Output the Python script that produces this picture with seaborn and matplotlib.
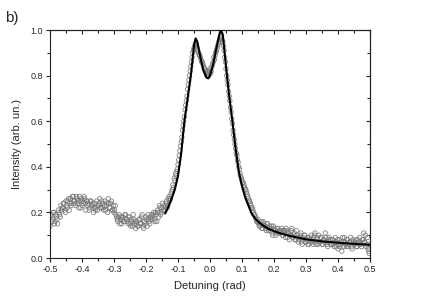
import numpy as np
import pandas as pd
import matplotlib
matplotlib.use("Agg")
import matplotlib.pyplot as plt
import seaborn as sns
from matplotlib.ticker import MultipleLocator

# datos medidos, barrido A (paso uniforme de -0.5 a 0.5 rad)
intensidad_a = [
    0.14, 0.19, 0.17, 0.20, 0.16, 0.18, 0.15, 0.20, 0.18, 0.21,
    0.22, 0.24, 0.20, 0.23, 0.25, 0.21, 0.26, 0.24, 0.27, 0.25,
    0.23, 0.26, 0.25, 0.27, 0.22, 0.25, 0.24, 0.26, 0.21, 0.25,
    0.24, 0.22, 0.25, 0.23, 0.20, 0.24, 0.22, 0.21, 0.23, 0.26,
    0.22, 0.24, 0.21, 0.25, 0.23, 0.20, 0.24, 0.22, 0.25, 0.21,
    0.20, 0.23, 0.18, 0.16, 0.19, 0.17, 0.15, 0.18, 0.16, 0.19,
    0.17, 0.15, 0.18, 0.14, 0.16, 0.19, 0.15, 0.13, 0.16, 0.14,
    0.17, 0.15, 0.19, 0.13, 0.16, 0.18, 0.14, 0.17, 0.15, 0.19,
    0.18, 0.20, 0.16, 0.19, 0.21, 0.18, 0.22, 0.20, 0.24, 0.21,
    0.22, 0.25, 0.23, 0.27, 0.26, 0.29, 0.32, 0.35, 0.37, 0.38,
    0.41, 0.45, 0.49, 0.53, 0.58, 0.62, 0.67, 0.71, 0.76, 0.80,
    0.84, 0.88, 0.91, 0.93, 0.94, 0.92, 0.90, 0.89, 0.87, 0.86,
    0.84, 0.83, 0.81, 0.82, 0.80, 0.83, 0.82, 0.85, 0.88, 0.89,
    0.91, 0.93, 0.95, 0.97, 0.96, 0.95, 0.91, 0.86, 0.80, 0.76,
    0.71, 0.66, 0.61, 0.56, 0.52, 0.48, 0.45, 0.42, 0.39, 0.36,
    0.34, 0.33, 0.31, 0.30, 0.28, 0.26, 0.25, 0.23, 0.22, 0.20,
    0.19, 0.17, 0.16, 0.15, 0.14, 0.16, 0.13, 0.15, 0.14, 0.12,
    0.15, 0.13, 0.12, 0.14, 0.10, 0.13, 0.12, 0.11, 0.13, 0.12,
    0.11, 0.13, 0.10, 0.12, 0.09, 0.12, 0.11, 0.08, 0.10, 0.13,
    0.09, 0.11, 0.08, 0.10, 0.07, 0.09, 0.11, 0.06, 0.08, 0.10,
    0.07, 0.09, 0.06, 0.08, 0.10, 0.07, 0.09, 0.11, 0.06, 0.08,
    0.10, 0.07, 0.09, 0.06, 0.08, 0.11, 0.07, 0.05, 0.09, 0.08,
    0.06, 0.08, 0.05, 0.09, 0.07, 0.04, 0.08, 0.06, 0.03, 0.07,
    0.09, 0.06, 0.08, 0.05, 0.07, 0.09, 0.04, 0.07, 0.06, 0.08,
    0.05, 0.07, 0.09, 0.06, 0.08, 0.11, 0.07, 0.05, 0.09, 0.03, 0.06,
]
desintonia_a = np.linspace(-0.5, 0.5, len(intensidad_a))

# barrido B, intercalado medio paso
intensidad_b = [
    0.18, 0.16, 0.20, 0.15, 0.19, 0.17, 0.21, 0.19, 0.23, 0.22,
    0.24, 0.21, 0.25, 0.22, 0.26, 0.24, 0.23, 0.27, 0.25, 0.24,
    0.27, 0.24, 0.22, 0.25, 0.26, 0.23, 0.27, 0.24, 0.25, 0.23,
    0.21, 0.25, 0.23, 0.24, 0.22, 0.21, 0.25, 0.23, 0.24, 0.22,
    0.25, 0.22, 0.23, 0.21, 0.24, 0.26, 0.22, 0.24, 0.21, 0.23,
    0.21, 0.19, 0.17, 0.18, 0.15, 0.18, 0.17, 0.16, 0.19, 0.17,
    0.16, 0.18, 0.15, 0.17, 0.14, 0.17, 0.16, 0.15, 0.14, 0.17,
    0.15, 0.18, 0.14, 0.16, 0.15, 0.17, 0.19, 0.16, 0.18, 0.17,
    0.19, 0.17, 0.20, 0.16, 0.20, 0.23, 0.19, 0.22, 0.21, 0.23,
    0.24, 0.22, 0.26, 0.25, 0.28, 0.30, 0.31, 0.34, 0.36, 0.39,
    0.43, 0.47, 0.51, 0.56, 0.60, 0.65, 0.69, 0.74, 0.78, 0.82,
    0.86, 0.90, 0.92, 0.94, 0.93, 0.91, 0.89, 0.88, 0.86, 0.85,
    0.83, 0.82, 0.80, 0.81, 0.82, 0.81, 0.84, 0.86, 0.87, 0.90,
    0.92, 0.94, 0.96, 0.97, 0.95, 0.93, 0.88, 0.83, 0.78, 0.73,
    0.69, 0.64, 0.59, 0.54, 0.50, 0.46, 0.43, 0.40, 0.37, 0.35,
    0.33, 0.32, 0.30, 0.29, 0.27, 0.25, 0.24, 0.22, 0.21, 0.19,
    0.18, 0.16, 0.17, 0.14, 0.15, 0.13, 0.16, 0.14, 0.13, 0.15,
    0.12, 0.14, 0.13, 0.11, 0.14, 0.12, 0.10, 0.13, 0.11, 0.12,
    0.12, 0.10, 0.12, 0.11, 0.13, 0.09, 0.11, 0.10, 0.12, 0.09,
    0.10, 0.08, 0.12, 0.09, 0.08, 0.10, 0.07, 0.09, 0.10, 0.07,
    0.08, 0.06, 0.09, 0.07, 0.08, 0.06, 0.10, 0.07, 0.09, 0.06,
    0.07, 0.09, 0.06, 0.08, 0.07, 0.09, 0.06, 0.08, 0.07, 0.06,
    0.08, 0.06, 0.07, 0.05, 0.08, 0.06, 0.05, 0.07, 0.09, 0.05,
    0.07, 0.05, 0.08, 0.06, 0.07, 0.05, 0.08, 0.06, 0.07, 0.05,
    0.08, 0.06, 0.07, 0.05, 0.08, 0.07, 0.10, 0.06, 0.04, 0.02,
]
desintonia_b = np.linspace(-0.498, 0.498, len(intensidad_b))

# curva de ajuste
desintonia_ajuste = [
    -0.14, -0.13, -0.12, -0.11, -0.10, -0.09, -0.08, -0.07, -0.06, -0.05,
    -0.045, -0.04, -0.03, -0.02, -0.01, -0.005, 0.0, 0.01, 0.02, 0.03,
    0.034, 0.04, 0.05, 0.06, 0.07, 0.08, 0.09, 0.10, 0.11, 0.12,
    0.13, 0.14, 0.15, 0.16, 0.18, 0.20, 0.22, 0.25, 0.30, 0.35,
    0.40, 0.45, 0.50,
]
intensidad_ajuste = [
    0.195, 0.225, 0.26, 0.30, 0.36, 0.46, 0.60, 0.70, 0.80, 0.93,
    0.963, 0.95, 0.88, 0.82, 0.79, 0.788, 0.80, 0.85, 0.92, 0.985,
    1.0, 0.98, 0.84, 0.71, 0.60, 0.48, 0.38, 0.315, 0.265, 0.23,
    0.195, 0.175, 0.16, 0.148, 0.13, 0.118, 0.108, 0.097, 0.082, 0.073,
    0.067, 0.062, 0.058,
]

df_medida = pd.DataFrame({
    "x": np.concatenate([desintonia_a, desintonia_b]),
    "y": intensidad_a + intensidad_b,
})
df_ajuste = pd.DataFrame({"x": desintonia_ajuste, "y": intensidad_ajuste})

sns.set_theme(style="ticks")
plt.rcParams.update({
    "font.family": ["Liberation Sans", "DejaVu Sans"],
    "axes.linewidth": 0.8,
    "axes.edgecolor": "#222222",
})

fig = plt.figure(figsize=(4.36, 3.04), dpi=100)
ax = fig.add_axes([0.1147, 0.1513, 0.7339, 0.75])

sns.scatterplot(data=df_medida, x="x", y="y", ax=ax, marker="o", s=10,
                facecolor="none", edgecolor="#7a7a7a", linewidth=0.55, zorder=2)
sns.lineplot(data=df_ajuste, x="x", y="y", ax=ax, color="black", linewidth=1.5,
             sort=False, zorder=3)

ax.set_xlim(-0.5, 0.5)
ax.set_ylim(0, 1.0)
ax.xaxis.set_major_locator(MultipleLocator(0.1))
ax.xaxis.set_minor_locator(MultipleLocator(0.05))
ax.yaxis.set_major_locator(MultipleLocator(0.2))
ax.yaxis.set_minor_locator(MultipleLocator(0.1))
ax.xaxis.set_major_formatter(plt.FuncFormatter(lambda v, p: f"{v:.1f}"))
ax.yaxis.set_major_formatter(plt.FuncFormatter(lambda v, p: f"{v:.1f}"))
ax.tick_params(which="major", direction="out", length=3, width=0.8, labelsize=6.5, pad=2, color="#222222")
ax.tick_params(which="minor", direction="out", length=2, width=0.8, color="#222222")

# ticks hacia dentro arriba y a la derecha
arriba = ax.secondary_xaxis("top")
arriba.xaxis.set_major_locator(MultipleLocator(0.1))
arriba.xaxis.set_minor_locator(MultipleLocator(0.05))
arriba.tick_params(which="major", direction="in", length=3, width=0.8, labeltop=False, color="#222222")
arriba.tick_params(which="minor", direction="in", length=2, width=0.8, color="#222222")
derecha = ax.secondary_yaxis("right")
derecha.yaxis.set_major_locator(MultipleLocator(0.2))
derecha.yaxis.set_minor_locator(MultipleLocator(0.1))
derecha.tick_params(which="major", direction="in", length=3, width=0.8, labelright=False, color="#222222")
derecha.tick_params(which="minor", direction="in", length=2, width=0.8, color="#222222")

ax.set_xlabel("Detuning (rad)", fontsize=8, labelpad=5)
ax.set_ylabel("Intensity (arb. un.)", fontsize=8, labelpad=6)
fig.text(0.012, 0.965, "b)", fontsize=11, ha="left", va="top")

fig.savefig("out.png", dpi=100)
